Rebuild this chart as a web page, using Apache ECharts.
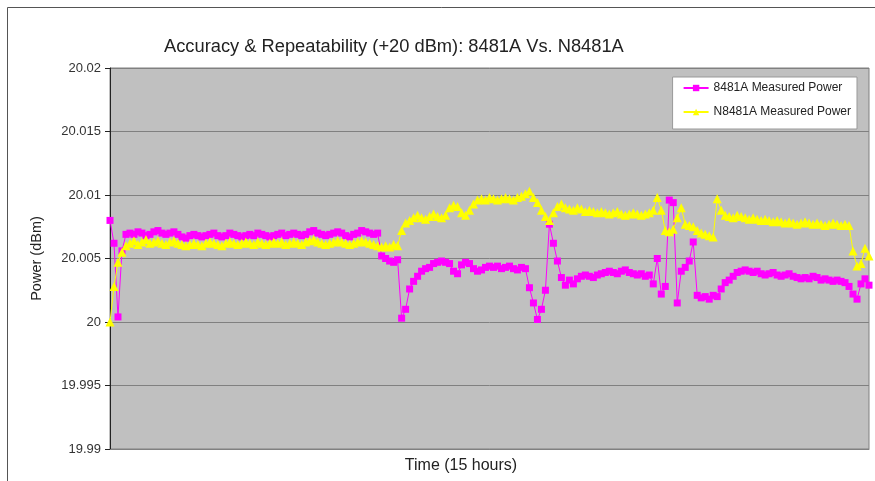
<!DOCTYPE html>
<html>
<head>
<meta charset="utf-8">
<script src="https://cdn.jsdelivr.net/npm/echarts@6/dist/echarts.min.js"></script>
<style>
  html, body { margin: 0; padding: 0; background: #fff; }
  #main { width: 875px; height: 481px; }
</style>
</head>
<body>
<div id="main"></div>
<script>
// 8481A measured power (dBm), one sample per step over 15 hours
var power8481A = [
  20.0080, 20.0062, 20.0004, 20.0056, 20.0069,
  20.0070, 20.0069, 20.0071, 20.0070, 20.0068, 20.0069, 20.0071, 20.0072, 20.0070, 20.0069,
  20.0070, 20.0071, 20.0069, 20.0067, 20.0066, 20.0068, 20.0069, 20.0068, 20.0067, 20.0068,
  20.0069, 20.0070, 20.0068, 20.0067, 20.0068, 20.0070, 20.0069, 20.0068, 20.0067, 20.0068,
  20.0069, 20.0068, 20.0070, 20.0069, 20.0068, 20.0067, 20.0068, 20.0069, 20.0070, 20.0068,
  20.0069, 20.0070, 20.0069, 20.0068, 20.0069, 20.0071, 20.0072, 20.0070, 20.0069, 20.0068,
  20.0069, 20.0070, 20.0071, 20.0070, 20.0068, 20.0067, 20.0069, 20.0070, 20.0072, 20.0071,
  20.0070, 20.0069, 20.0070,
  20.0052, 20.0050, 20.0048, 20.0047, 20.0049,
  20.0003, 20.0010, 20.0026, 20.0032, 20.0036, 20.0040, 20.0042, 20.0043,
  20.0046, 20.0047, 20.0048, 20.0047, 20.0046, 20.0040, 20.0038, 20.0045, 20.0047, 20.0046,
  20.0042, 20.0040, 20.0041, 20.0043, 20.0044, 20.0043, 20.0044, 20.0042, 20.0043, 20.0044,
  20.0042, 20.0041, 20.0043, 20.0042,
  20.0027, 20.0015, 20.0002, 20.0010, 20.0025, 20.0077, 20.0062, 20.0048, 20.0035, 20.0029, 20.0033,
  20.0030, 20.0034, 20.0036, 20.0037, 20.0036, 20.0035, 20.0037, 20.0038, 20.0039, 20.0040,
  20.0039, 20.0038, 20.0040, 20.0041, 20.0039, 20.0038, 20.0037, 20.0038, 20.0036, 20.0037,
  20.0030, 20.0050, 20.0022, 20.0028, 20.0096, 20.0094, 20.0015, 20.0040, 20.0043, 20.0048, 20.0063, 20.0021,
  20.0019, 20.0020, 20.0018, 20.0021, 20.0020, 20.0026, 20.0031, 20.0033, 20.0036,
  20.0039, 20.0040, 20.0041, 20.0040, 20.0039, 20.0040, 20.0038, 20.0037, 20.0038, 20.0039,
  20.0037, 20.0036, 20.0037, 20.0038, 20.0036, 20.0035, 20.0034, 20.0035, 20.0034, 20.0036,
  20.0035, 20.0033, 20.0034, 20.0033, 20.0032, 20.0033, 20.0032, 20.0031,
  20.0028, 20.0022, 20.0018, 20.0030, 20.0034, 20.0029
];

// N8481A measured power (dBm)
var powerN8481A = [
  20.0000, 20.0028, 20.0047, 20.0055, 20.0060,
  20.0062, 20.0064, 20.0061, 20.0063, 20.0065, 20.0062, 20.0063, 20.0064, 20.0062, 20.0061,
  20.0063, 20.0064, 20.0062, 20.0061, 20.0060, 20.0061, 20.0062, 20.0061, 20.0060, 20.0062,
  20.0063, 20.0062, 20.0061, 20.0060, 20.0062, 20.0063, 20.0062, 20.0061, 20.0062, 20.0063,
  20.0062, 20.0061, 20.0063, 20.0062, 20.0061, 20.0062, 20.0063, 20.0062, 20.0063, 20.0061,
  20.0062, 20.0063, 20.0062, 20.0061, 20.0063, 20.0064, 20.0065, 20.0063, 20.0062, 20.0061,
  20.0062, 20.0063, 20.0064, 20.0063, 20.0062, 20.0061, 20.0062, 20.0063, 20.0064, 20.0063,
  20.0062, 20.0061, 20.0060, 20.0059, 20.0060, 20.0059, 20.0061, 20.0060,
  20.0072, 20.0078,
  20.0080, 20.0082, 20.0084, 20.0082, 20.0081, 20.0083, 20.0085, 20.0083, 20.0082, 20.0084,
  20.0090, 20.0092, 20.0091, 20.0086, 20.0084, 20.0088, 20.0093, 20.0096,
  20.0097, 20.0096, 20.0098, 20.0097, 20.0096, 20.0097, 20.0098, 20.0097, 20.0096, 20.0098,
  20.0099, 20.0101,
  20.0103, 20.0098, 20.0094, 20.0088, 20.0083, 20.0080, 20.0086, 20.0091, 20.0093, 20.0090,
  20.0089, 20.0088, 20.0090, 20.0089, 20.0087, 20.0088, 20.0087, 20.0086, 20.0087, 20.0086,
  20.0085, 20.0086, 20.0087, 20.0085, 20.0084, 20.0085, 20.0086, 20.0085, 20.0084, 20.0085,
  20.0086,
  20.0088, 20.0098, 20.0088, 20.0072, 20.0071, 20.0073, 20.0082, 20.0090, 20.0077,
  20.0076, 20.0075, 20.0072, 20.0070, 20.0069, 20.0068, 20.0067,
  20.0097, 20.0088,
  20.0084, 20.0083, 20.0082, 20.0084, 20.0083, 20.0082, 20.0081, 20.0082, 20.0081, 20.0080,
  20.0081, 20.0080, 20.0079, 20.0080, 20.0079, 20.0078, 20.0079, 20.0078, 20.0077, 20.0078,
  20.0079, 20.0078, 20.0077, 20.0078, 20.0077, 20.0076, 20.0077, 20.0078, 20.0077, 20.0076,
  20.0077,
  20.0076, 20.0056, 20.0044, 20.0046, 20.0058, 20.0052
];

// sample number along the 15 hour run (axis has no labels)
var samples = power8481A.map(function (v, i) { return i + 1; });

var yTicks = [19.99, 19.995, 20, 20.005, 20.01, 20.015, 20.02];

var myChart = echarts.init(document.getElementById('main'), null, { renderer: 'canvas' });

var option = {
  animation: false,
  backgroundColor: '#fff',
  textStyle: { fontFamily: 'Liberation Sans, Arial, sans-serif' },
  title: {
    text: 'Accuracy & Repeatability (+20 dBm): 8481A Vs. N8481A',
    left: 159,
    top: 33,
    textStyle: {
      fontFamily: 'Liberation Sans, Arial, sans-serif',
      fontWeight: 'normal',
      fontSize: 18.3,
      color: '#222'
    }
  },
  graphic: [{
    type: 'rect',
    shape: { x: 7.5, y: 7.5, width: 900, height: 500 },
    style: { fill: 'none', stroke: '#555', lineWidth: 1 },
    silent: true,
    z: -1
  }],
  legend: {
    orient: 'vertical',
    right: 18,
    top: 77,
    padding: [5, 6, 11, 10],
    itemGap: 12,
    itemWidth: 25,
    itemHeight: 8,
    backgroundColor: '#fff',
    borderColor: '#999',
    borderWidth: 1,
    textStyle: { fontSize: 12, color: '#222', fontFamily: 'Liberation Sans, Arial, sans-serif' },
    data: ['8481A Measured Power', 'N8481A Measured Power']
  },
  grid: {
    left: 110,
    right: 6,
    top: 68,
    bottom: 32,
    show: true,
    backgroundColor: '#c0c0c0',
    borderColor: '#808080',
    borderWidth: 1
  },
  xAxis: {
    type: 'category',
    data: samples,
    boundaryGap: false,
    name: 'Time (15 hours)',
    nameLocation: 'middle',
    nameGap: 9,
    nameTextStyle: {
      fontFamily: 'Liberation Sans, Arial, sans-serif',
      fontSize: 16,
      color: '#222',
      verticalAlign: 'top',
      padding: [0, 57, 0, 0]
    },
    axisLine: { show: true, lineStyle: { color: '#808080' } },
    axisTick: { show: false },
    axisLabel: { show: false },
    splitLine: { show: false }
  },
  yAxis: {
    type: 'value',
    min: yTicks[0],
    max: yTicks[yTicks.length - 1],
    interval: 0.005,
    name: 'Power (dBm)',
    nameLocation: 'middle',
    nameGap: 66,
    nameTextStyle: { fontSize: 14.5, color: '#222' },
    axisLine: { show: true, lineStyle: { color: '#222' } },
    axisTick: { show: true, length: 5, lineStyle: { color: '#222' } },
    axisLabel: {
      fontSize: 13,
      color: '#333',
      margin: 9,
      formatter: function (v) { return String(+v.toFixed(3)); }
    },
    splitLine: { show: true, lineStyle: { color: '#808080', width: 1 } }
  },
  series: [
    {
      name: '8481A Measured Power',
      type: 'line',
      data: power8481A,
      color: '#ff00ff',
      symbol: 'rect',
      symbolSize: 7,
      showAllSymbol: true,
      lineStyle: { width: 1, color: '#ff00ff' },
      itemStyle: { color: '#ff00ff' }
    },
    {
      name: 'N8481A Measured Power',
      type: 'line',
      data: powerN8481A,
      color: '#ffff00',
      symbol: 'triangle',
      symbolSize: 9,
      showAllSymbol: true,
      lineStyle: { width: 1, color: '#ffff00' },
      itemStyle: { color: '#ffff00' }
    }
  ]
};

myChart.setOption(option);
</script>
</body>
</html>
